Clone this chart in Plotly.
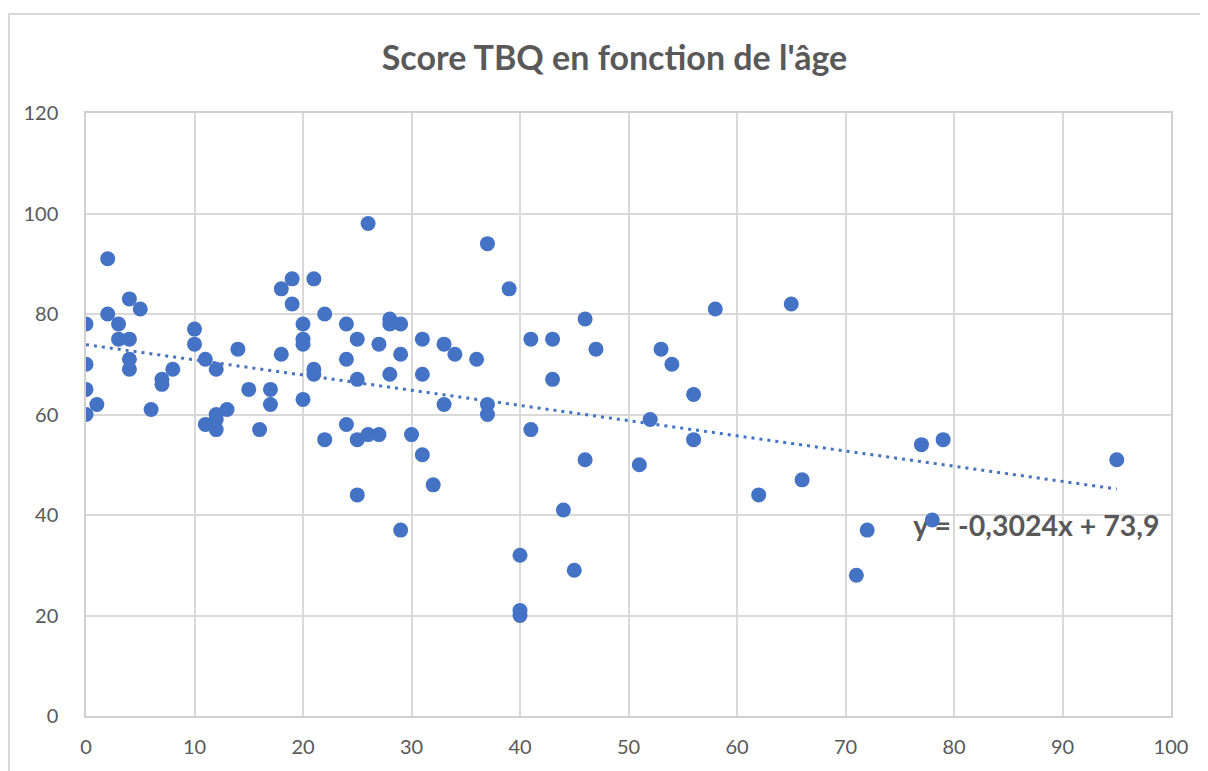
import plotly.graph_objects as go

# Data
ages = [0, 0, 0, 0, 1, 2, 2, 3, 3, 4, 4, 4, 4, 5, 6, 7, 7, 8, 10, 10,
        11, 11, 12, 12, 12, 12, 13, 14, 15, 16, 17, 17, 18, 18, 19, 19,
        20, 20, 20, 20, 21, 21, 21, 22, 22, 24, 24, 24, 25, 25, 25, 25,
        26, 26, 27, 27, 28, 28, 28, 29, 29, 29, 30, 31, 31, 31, 32, 33, 33,
        34, 36, 37, 37, 37, 39, 40, 40, 40, 41, 41, 43, 43, 44, 45, 46, 46,
        47, 51, 52, 53, 54, 56, 56, 58, 62, 65, 66, 71, 72, 77, 78, 79, 95]
scores = [78, 70, 65, 60, 62, 91, 80, 78, 75, 83, 75, 71, 69, 81, 61, 67, 66, 69, 77, 74,
          71, 58, 69, 60, 59, 57, 61, 73, 65, 57, 65, 62, 85, 72, 87, 82,
          78, 75, 74, 63, 87, 69, 68, 80, 55, 78, 71, 58, 75, 67, 55, 44,
          98, 56, 74, 56, 79, 78, 68, 78, 72, 37, 56, 75, 68, 52, 46, 74, 62,
          72, 71, 94, 62, 60, 85, 32, 21, 20, 75, 57, 75, 67, 41, 29, 79, 51,
          73, 50, 59, 73, 70, 64, 55, 81, 44, 82, 47, 28, 37, 54, 39, 55, 51]

trend_slope = -0.3024
trend_intercept = 73.9
equation_label = "y = -0,3024x + 73,9"
title_text = "Score TBQ en fonction de l'âge"
x_ticks = list(range(0, 101, 10))
y_ticks = list(range(0, 121, 20))

blue = "#4472C4"
grey_text = "#595959"
grid = "#d9d9d9"
font_family = "Lato"

trend_x = [min(ages), max(ages)]
trend_y = [trend_slope * v + trend_intercept for v in trend_x]

# Page has an 8px body margin; plot area sits at screen x 86..1171, y 113..716
W, H = 1200, 763
L, R, T, B = 78, 37, 105, 55
PW = W - L - R
PH = H - T - B

# Chart frame: only the left and top edges are visible in the reference
fx0 = (1 - L) / PW
fx1 = (W + 40 - L) / PW
fy0 = -(H + 40 - (T + PH)) / PH
fy1 = (T + PH - 6) / PH
frame_path = f"M {fx0} {fy0} L {fx0} {fy1} L {fx1} {fy1}"

fig = go.Figure()

# Equation label (drawn first so markers sit on top, as in the reference)
fig.add_trace(go.Scatter(
    x=[87.6], y=[37.2], mode="text", text=[equation_label],
    textfont=dict(family=font_family, size=28.5, color=grey_text, weight=700),
    hoverinfo="skip", showlegend=False, cliponaxis=False))

fig.add_trace(go.Scatter(
    x=trend_x, y=trend_y, mode="lines",
    line=dict(color=blue, width=3, dash="3px,5px"),
    hoverinfo="skip", showlegend=False))

fig.add_trace(go.Scatter(
    x=ages, y=scores, mode="markers",
    marker=dict(color=blue, size=15, line=dict(width=0)),
    showlegend=False))

fig.update_layout(
    width=W, height=H, autosize=False,
    margin=dict(l=L, r=R, t=T, b=B),
    paper_bgcolor="white", plot_bgcolor="white",
    title=dict(text=title_text, x=606.5 / W, xref="container", xanchor="center",
               y=1 - 50 / H, yref="container", yanchor="middle",
               font=dict(family=font_family, size=34, color=grey_text, weight=700)),
    font=dict(family=font_family, color=grey_text),
    shapes=[dict(type="path", xref="paper", yref="paper", path=frame_path,
                 line=dict(color=grid, width=2), layer="below")],
)

fig.update_xaxes(
    range=[0, 100], tickvals=x_ticks, showgrid=True, gridcolor=grid, gridwidth=1.5,
    zeroline=False, showline=True, linecolor="#d0d0d0", linewidth=1.5, mirror=True,
    ticks="", tickfont=dict(family=font_family, size=20, color=grey_text),
    ticklabelstandoff=12)
fig.update_yaxes(
    range=[0, 120], tickvals=y_ticks, showgrid=True, gridcolor=grid, gridwidth=1.5,
    zeroline=False, showline=True, linecolor="#d0d0d0", linewidth=1.5, mirror=True,
    ticks="", tickfont=dict(family=font_family, size=20, color=grey_text),
    ticklabelstandoff=22)

fig.write_html("out.html")
